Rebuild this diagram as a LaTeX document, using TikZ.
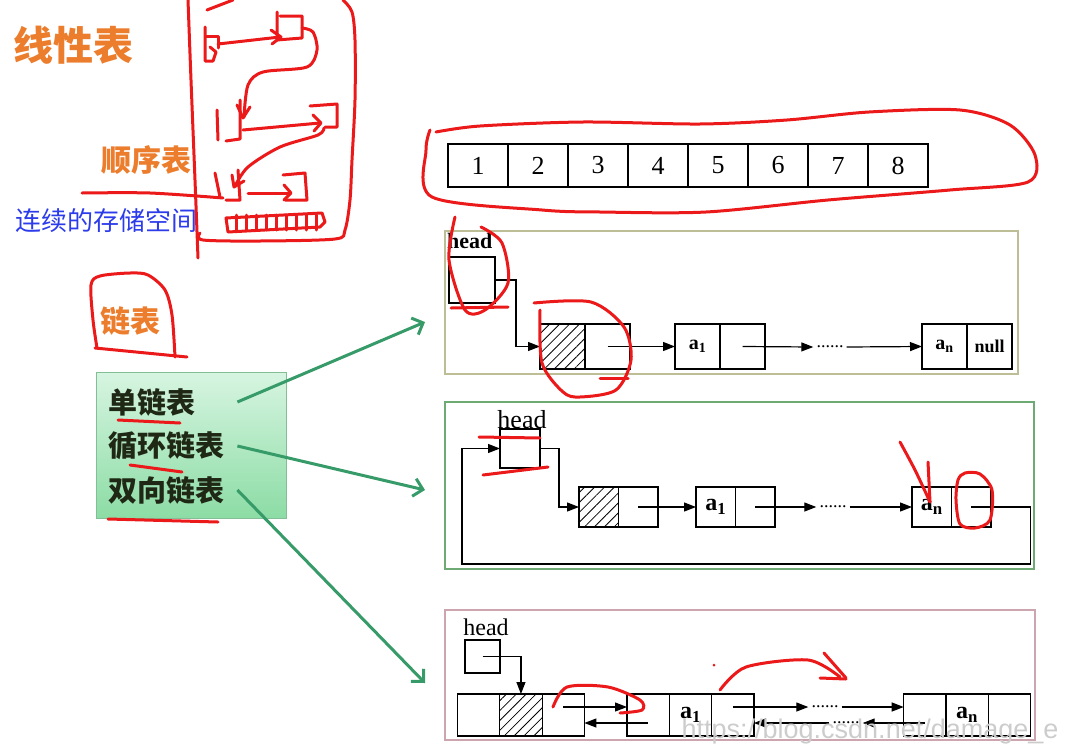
\documentclass[tikz,border=0pt]{standalone}
\usepackage{fontspec}
\setmainfont{Liberation Serif}
\setsansfont{Liberation Sans}
\newfontfamily\cjk{Noto Sans CJK SC}
\usetikzlibrary{shapes,arrows,arrows.meta,patterns.meta,positioning}

\definecolor{orangetext}{RGB}{235,125,45}
\definecolor{bluetext}{RGB}{45,60,235}
\definecolor{penred}{RGB}{235,25,25}
\definecolor{arrowgreen}{RGB}{55,155,105}
\definecolor{frameone}{RGB}{190,190,150}
\definecolor{frametwo}{RGB}{110,170,115}
\definecolor{framethree}{RGB}{205,165,175}
\definecolor{gboxtop}{RGB}{215,245,225}
\definecolor{gboxbottom}{RGB}{140,220,165}
\definecolor{gboxborder}{RGB}{130,190,150}
\definecolor{darktext}{RGB}{30,40,20}

\begin{document}
\begin{tikzpicture}[x=1pt,y=-1pt]
	\tikzstyle{Cell}	= [draw, line width=1.2pt, inner sep=0pt, outer sep=0pt]
	\tikzstyle{Hatch}	= [pattern={Lines[angle=45,distance=7pt,line width=0.8pt]}]
	\tikzstyle{Frame}	= [line width=1.5pt]
	\tikzstyle{Link}	= [line width=1.2pt, -{Triangle[length=12pt,width=9pt]}]
	\tikzstyle{Dots}	= [inner sep=3pt, font=\fontsize{18}{18}\selectfont]
	\tikzstyle{Green}	= [draw=arrowgreen, line width=3pt, -{Straight Barb[length=9pt,width=18pt]}]
	\tikzstyle{Item}	= [anchor=west, inner sep=0pt, text width=129pt, align=left, text=darktext, font=\cjk\bfseries\fontsize{29}{29}\selectfont]
	\tikzstyle{Pen}		= [draw=penred, line width=3pt, line cap=round, line join=round]

	\useasboundingbox (0,0) rectangle (1070,755);

	% left labels
	\node (title) at (73,45) [text=orangetext, font=\cjk\bfseries\fontsize{40}{40}\selectfont] {线性表};
	\node (seq) at (146,160) [text=orangetext, font=\cjk\bfseries\fontsize{30}{30}\selectfont] {顺序表};
	\node (cont) at (106,221) [text=bluetext, font=\cjk\fontsize{26}{26}\selectfont] {连续的存储空间};
	\node (link) at (130,321) [text=orangetext, font=\cjk\bfseries\fontsize{30}{30}\selectfont] {链表};

	% kinds of linked list
	\node (G) at (191,445) [draw=gboxborder, line width=1pt, top color=gboxtop, bottom color=gboxbottom, minimum width=190pt, minimum height=146pt] {};
	\node (t1) at (108,402) [Item] {单链表};
	\node (t2) at (108,446) [Item] {循环链表};
	\node (t3) at (108,490) [Item] {双向链表};

	% array
	\foreach \i in {1,...,8}
		\node (c\i) at ({418+60*\i},165.5) [Cell, minimum width=60pt, minimum height=43pt, font=\fontsize{26}{26}\selectfont] {\i};

	% single list
	\draw [Frame, draw=frameone] (445,231) rectangle (1018,374);
	\node (hd1) at (447,241) [anchor=west, inner sep=0pt, font=\bfseries\fontsize{22}{22}\selectfont] {head};
	\node (h1) at (472,280) [Cell, minimum width=46pt, minimum height=46pt] {};
	\node (s1) at (562.5,346.5) [Cell, Hatch, minimum width=45pt, minimum height=45pt] {};
	\node (s1n) [Cell, right=0pt of s1, minimum width=45pt, minimum height=45pt] {};
	\node (a1) at (697.5,346.5) [Cell, minimum width=45pt, minimum height=45pt, font=\bfseries\fontsize{20}{20}\selectfont] {a\textsubscript{1}};
	\node (a1n) [Cell, right=0pt of a1, minimum width=45pt, minimum height=45pt] {};
	\node (an) at (944.5,346.5) [Cell, minimum width=45pt, minimum height=45pt, font=\bfseries\fontsize{20}{20}\selectfont] {a\textsubscript{n}};
	\node (ann) [Cell, right=0pt of an, minimum width=45pt, minimum height=45pt, font=\bfseries\fontsize{18}{18}\selectfont] {null};
	\node (d1) at (830,347) [Dots] {......};

	\draw [Link] (h1.east) -- ++(21,0) |- (s1.west);
	\draw [Link] (s1n.center) -- (a1.west);
	\draw [Link] (a1n.center) -- (d1.west);
	\draw [Link] (d1.east) -- (an.west);

	% circular list
	\draw [Frame, draw=frametwo] (445,402) rectangle (1034,569);
	\node (hd2) at (522,420) [inner sep=0pt, font=\fontsize{26}{26}\selectfont] {head};
	\node (h2) at (520,448.5) [Cell, minimum width=40pt, minimum height=39pt] {};
	\node (s2) at (598.75,507) [Cell, Hatch, minimum width=39.5pt, minimum height=40pt] {};
	\node (s2n) [Cell, right=0pt of s2, minimum width=39.5pt, minimum height=40pt] {};
	\node (a2) at (715.75,507) [Cell, minimum width=39.5pt, minimum height=40pt, font=\bfseries\fontsize{24}{24}\selectfont] {a\textsubscript{1}};
	\node (a2n) [Cell, right=0pt of a2, minimum width=39.5pt, minimum height=40pt] {};
	\node (an2) at (931.75,507) [Cell, minimum width=39.5pt, minimum height=40pt, font=\bfseries\fontsize{24}{24}\selectfont] {a\textsubscript{n}};
	\node (an2n) [Cell, right=0pt of an2, minimum width=39.5pt, minimum height=40pt] {};
	\node (d2) at (833,507) [Dots] {......};

	\draw [Link] (h2.east) -- ++(19,0) |- (s2.west);
	\draw [Link] (s2n.center) -- (a2.west);
	\draw [Link] (a2n.center) -- (d2.west);
	\draw [Link] (d2.east) -- (an2.west);
	\draw [Link] (an2n.center) -- ++(59,0) -- ++(0,57) -| ([xshift=-38pt]h2.west) -- (h2.west);

	% double list
	\draw [Frame, draw=framethree] (445,610) rectangle (1035,740);
	\node (hd3) at (486,627) [inner sep=0pt, font=\fontsize{24}{24}\selectfont] {head};
	\node (h3) at (482.5,656.5) [Cell, minimum width=35pt, minimum height=33pt] {};
	\node (p0) at (478.65,715) [Cell, minimum width=42.3pt, minimum height=42pt] {};
	\node (q0) [Cell, Hatch, right=0pt of p0, minimum width=42.3pt, minimum height=42pt] {};
	\node (r0) [Cell, right=0pt of q0, minimum width=42.3pt, minimum height=42pt] {};
	\node (p1) at (648.15,715) [Cell, minimum width=42.3pt, minimum height=42pt] {};
	\node (q1) [Cell, right=0pt of p1, minimum width=42.3pt, minimum height=42pt, font=\bfseries\fontsize{24}{24}\selectfont] {a\textsubscript{1}};
	\node (r1) [Cell, right=0pt of q1, minimum width=42.3pt, minimum height=42pt] {};
	\node (pn) at (924.85,715) [Cell, minimum width=42.3pt, minimum height=42pt] {};
	\node (qn) [Cell, right=0pt of pn, minimum width=42.3pt, minimum height=42pt, font=\bfseries\fontsize{24}{24}\selectfont] {a\textsubscript{n}};
	\node (rn) [Cell, right=0pt of qn, minimum width=42.3pt, minimum height=42pt] {};
	\node (d3) at (825,707) [Dots] {......};
	\node (d4) at (846,723) [Dots] {......};

	\draw [Link] (h3.center) -| (q0.north);
	\draw [Link] ([yshift=8pt]r0.center) -- ([yshift=8pt]p1.west);
	\draw [Link] ([yshift=-8pt]p1.center) -- ([yshift=-8pt]r0.east);
	\draw [Link] ([yshift=8pt]r1.center) -- (d3.west);
	\draw [Link] (d3.east) -- ([yshift=8pt]pn.west);
	\draw [Link] ([yshift=-8pt]pn.center) -- (d4.east);
	\draw [Link] (d4.west) -- ([yshift=-8pt]r1.east);

	% green arrows
	\coordinate (g1) at (425,322);
	\coordinate (g2) at (425,490);
	\coordinate (g3) at (425,683);
	\draw [Green] (t1.east) -- (g1);
	\draw [Green] (t2.east) -- (g2);
	\draw [Green] (t3.east) -- (g3);

	\node (wm) at (870,732) [text=gray!40, font=\sffamily\fontsize{27}{27}\selectfont] {https://blog.csdn.net/damage\_e};

	% red pen notes
	\draw [Pen] plot [smooth] coordinates {(188,0) (191,80) (195,180) (198,258)};
	\draw [Pen] (207,10) -- (233,0);
	\draw [Pen] plot [smooth] coordinates {(343,0) (352,12) (355,40) (355,100) (352,160) (350,200) (345,230) (335,239) (260,241) (203,240) (200,233)};
	\draw [Pen] (205,27) -- (205,61) -- (213,61) -- (216,52) -- (210,47);
	\draw [Pen] (206,36) -- (218,36) -- (218,48);
	\draw [Pen] (218,44) -- (280,37);
	\draw [Pen] (271,30) -- (281,37) -- (272,44);
	\draw [Pen] (277,12) -- (277,40) -- (302,38) -- (302,16) -- (280,16);
	\draw [Pen] plot [smooth] coordinates {(302,28) (313,32) (317,50) (307,67) (263,72) (248,85) (244,117)};
	\draw [Pen] (237,105) -- (243,118) -- (250,107);
	\draw [Pen] (217,110) -- (218,140);
	\draw [Pen] (226,141) -- (240,139) -- (240,100);
	\draw [Pen] (243,130) -- (320,123);
	\draw [Pen] (313,115) -- (321,123) -- (314,131);
	\draw [Pen] (310,106) -- (337,104) -- (337,127) -- (325,127);
	\draw [Pen] plot [smooth] coordinates {(324,128) (318,135) (280,147) (248,167) (235,186)};
	\draw [Pen] (232,175) -- (234,187) -- (244,181);
	\draw [Pen] (215,173) -- (220,197);
	\draw [Pen] (226,200) -- (240,200) -- (238,170);
	\draw [Pen] (248,193) -- (290,193);
	\draw [Pen] (284,185) -- (291,193) -- (284,200);
	\draw [Pen] (283,175) -- (305,173) -- (307,200) -- (285,200);
	\draw [Pen] (226,218) -- (322,213) -- (325,222) -- (320,227) -- (228,232) -- cycle;
	\foreach \x in {236,246,256,266,276,286,296,306,316}
		\draw [Pen] (\x,215) -- (\x,230);
	\draw [Pen] plot [smooth] coordinates {(82,193) (150,193) (223,198)};
	\draw [Pen] plot [smooth] coordinates {(97,348) (93,320) (91,285) (100,276) (130,273) (148,275) (165,290) (172,315) (175,357)};
	\draw [Pen] (95,348) -- (187,357);
	\draw [Pen] (118,420) -- (180,423);
	\draw [Pen] (130,465) -- (182,472);
	\draw [Pen] (108,519) -- (218,522);
	\draw [Pen] plot [smooth] coordinates {(436,132) (480,126) (583,122) (700,124) (787,120) (869,112) (960,110) (1010,125) (1035,155) (1028,182) (950,190) (828,200) (706,212) (600,212) (542,210) (432,197) (426,150) (430,130)};
	\draw [Pen] plot [smooth] coordinates {(455,217) (449,260) (465,310) (485,310) (508,283) (502,243) (481,227)};
	\draw [Pen] (451,308) -- (508,307);
	\draw [Pen] plot [smooth] coordinates {(534,303) (591,302) (624,327) (631,360) (616,390) (580,397) (563,392) (542,363) (540,310)};
	\draw [Pen] (600,378) -- (628,378);
	\draw [Pen] (479,437) -- (540,438);
	\draw [Pen] (483,475) -- (548,467);
	\draw [Pen] plot [smooth] coordinates {(900,442) (915,470) (930,502)};
	\draw [Pen] (928,462) -- (930,502);
	\draw [Pen] plot [smooth cycle] coordinates {(958,480) (965,473) (980,474) (992,490) (990,520) (975,528) (960,524) (956,500)};
	\draw [Pen] plot [smooth] coordinates {(553,707) (567,687) (608,687) (640,700) (642,710) (620,713)};
	\draw [Pen] plot [smooth] coordinates {(720,690) (746,667) (808,660) (840,677)};
	\draw [Pen] (824,653) -- (846,678);
	\draw [Pen] (820,678) -- (846,679);
	\fill [penred] (714,665) circle (1.5pt);
\end{tikzpicture}
\end{document}
